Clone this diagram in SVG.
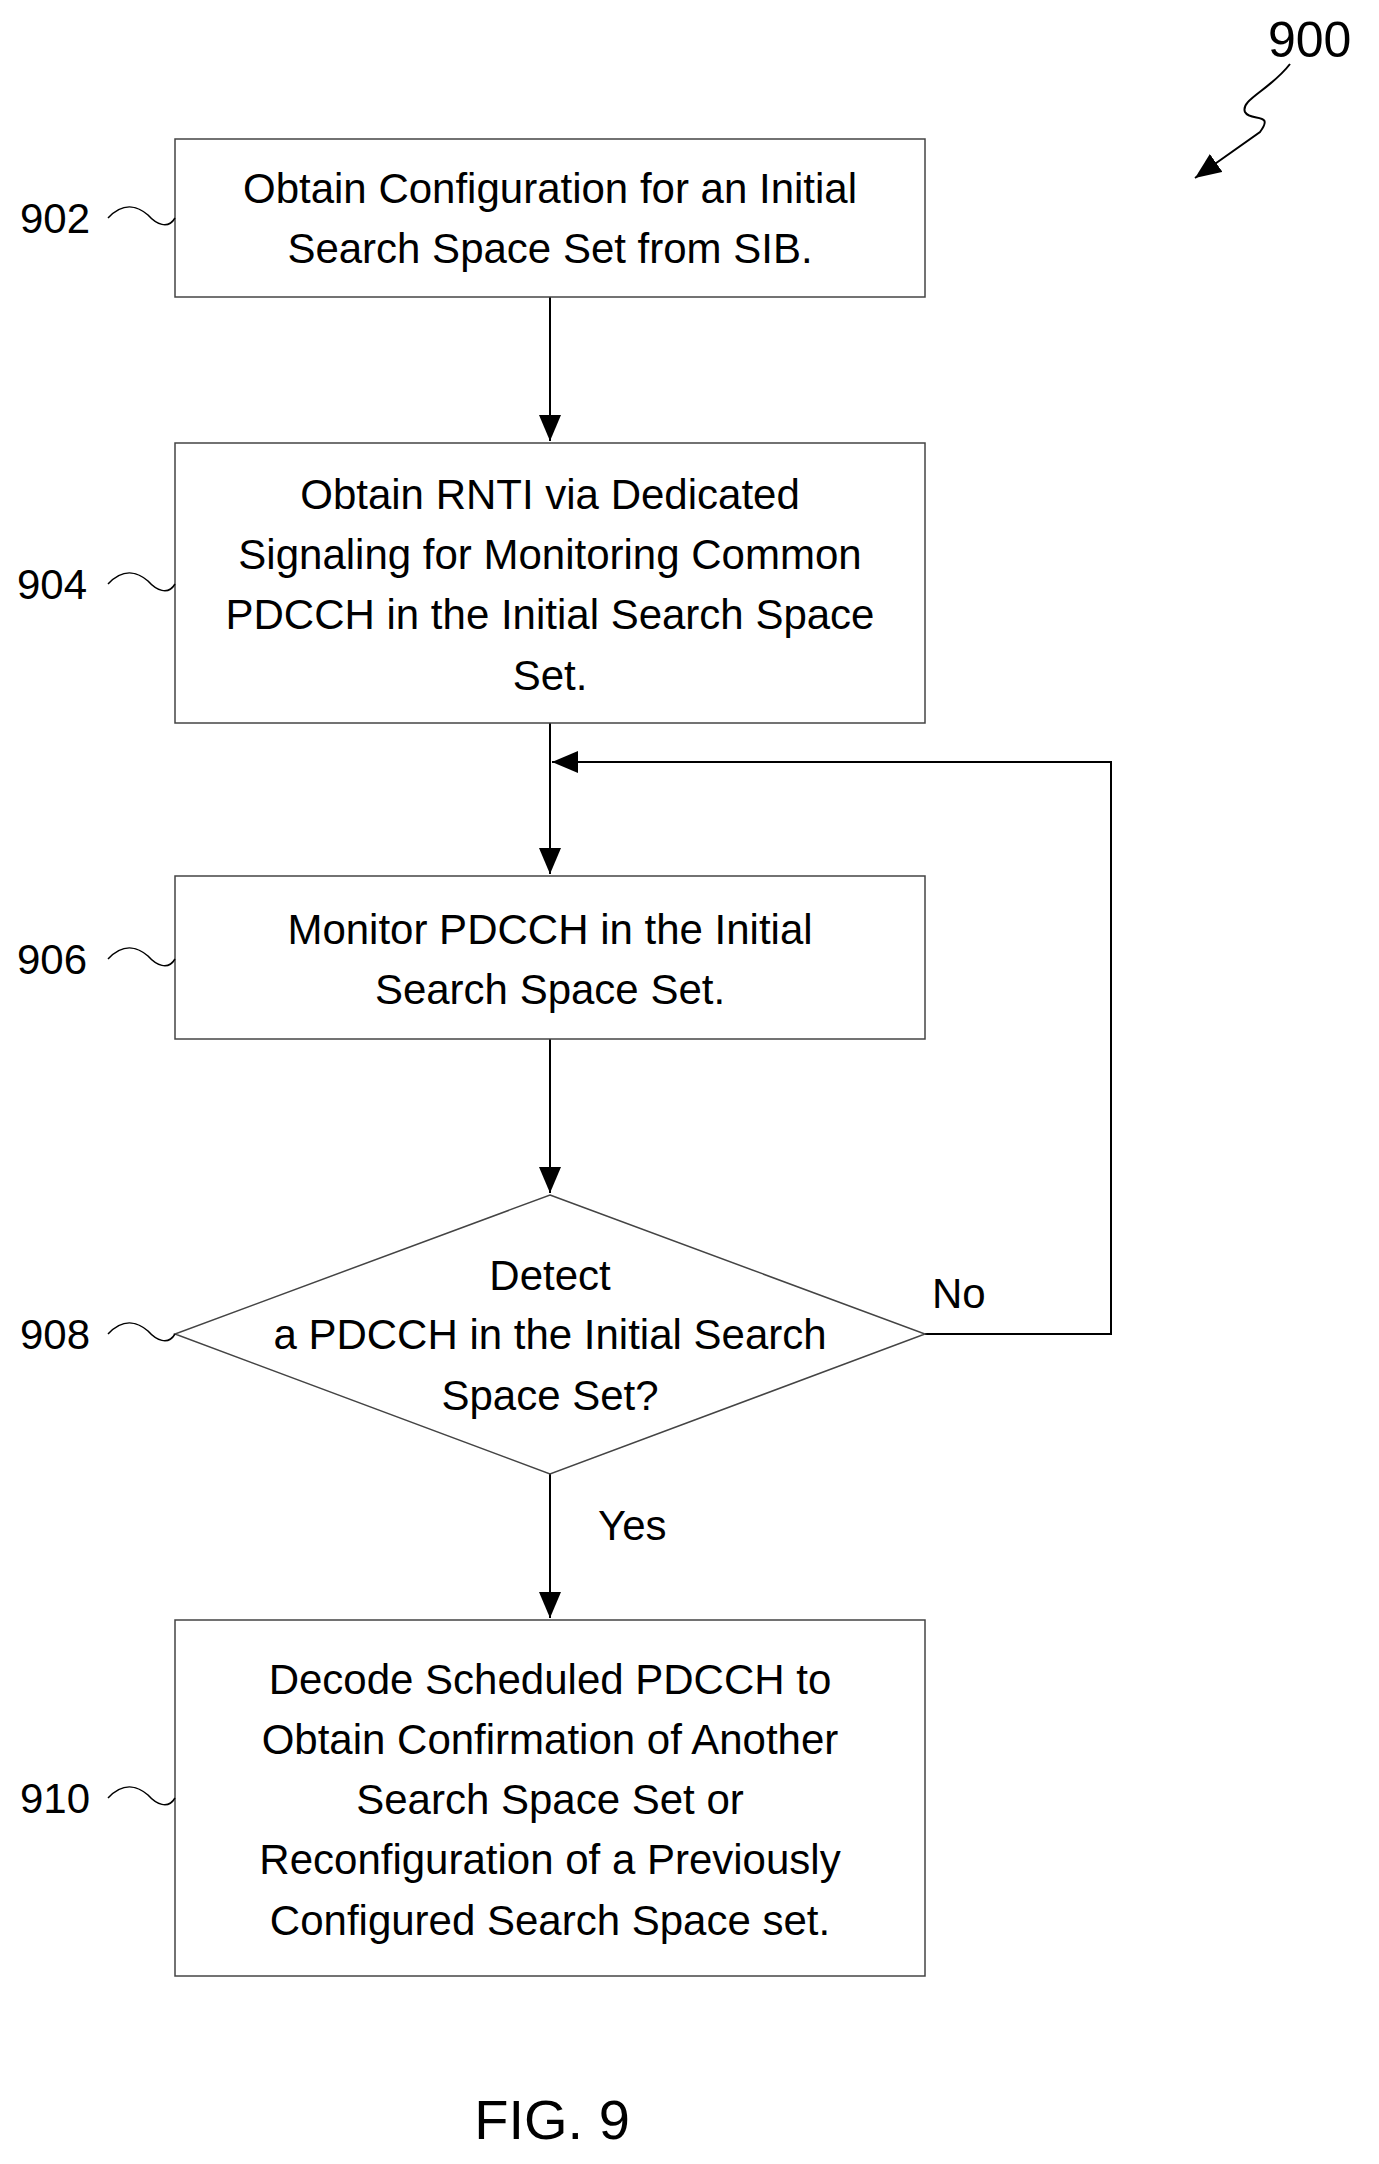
<svg xmlns="http://www.w3.org/2000/svg" width="1379" height="2164" viewBox="0 0 1379 2164">
<style>
.b{fill:#fff;stroke:#444;stroke-width:1.5}
.t{font-family:"Liberation Sans",Arial,sans-serif;font-size:42px;fill:#000;text-anchor:middle}
.l{font-family:"Liberation Sans",Arial,sans-serif;font-size:42px;fill:#000}
.c{fill:none;stroke:#000;stroke-width:2}
.s{fill:none;stroke:#000;stroke-width:1.5}
</style>
<defs><marker id="a2" markerWidth="26" markerHeight="22" refX="26" refY="11" orient="auto" markerUnits="userSpaceOnUse"><path d="M0,0 L26,11 L0,22 z" fill="#000"/></marker></defs>
<rect width="1379" height="2164" fill="#fff"/>
<g id="connectors">
<line class="c" x1="550" y1="297" x2="550" y2="441" marker-end="url(#a2)"/>
<line class="c" x1="550" y1="723" x2="550" y2="874" marker-end="url(#a2)"/>
<line class="c" x1="550" y1="1039" x2="550" y2="1193" marker-end="url(#a2)"/>
<line class="c" x1="550" y1="1474" x2="550" y2="1618" marker-end="url(#a2)"/>
<polyline class="c" points="925,1334 1111,1334 1111,762 552,762" marker-end="url(#a2)"/>
<text class="l" x="932" y="1308">No</text>
<text class="l" x="598" y="1540">Yes</text>
</g>
<g id="n900"><text class="l" x="1268" y="57" style="font-size:50px">900</text>
<path class="c" d="M1290,64 C1270,90 1240,100 1245,112 C1250,122 1275,112 1260,132 L1195,178" marker-end="url(#a2)"/></g>
<g id="n902"><rect class="b" x="175" y="139" width="750" height="158"/>
<text class="t" x="550" y="203">Obtain Configuration for an Initial</text>
<text class="t" x="550" y="263">Search Space Set from SIB.</text>
<text class="l" x="20" y="233">902</text><path class="s" d="M108,218 C125,200 140,208 148,215 C156,224 168,230 175,218"/></g>
<g id="n904"><rect class="b" x="175" y="443" width="750" height="280"/>
<text class="t" x="550" y="509">Obtain RNTI via Dedicated</text>
<text class="t" x="550" y="569">Signaling for Monitoring Common</text>
<text class="t" x="550" y="629">PDCCH in the Initial Search Space</text>
<text class="t" x="550" y="690">Set.</text>
<text class="l" x="17" y="599">904</text><path class="s" d="M108,584 C125,566 140,574 148,581 C156,590 168,596 175,584"/></g>
<g id="n906"><rect class="b" x="175" y="876" width="750" height="163"/>
<text class="t" x="550" y="944">Monitor PDCCH in the Initial</text>
<text class="t" x="550" y="1004">Search Space Set.</text>
<text class="l" x="17" y="974">906</text><path class="s" d="M108,959 C125,941 140,949 148,956 C156,965 168,971 175,959"/></g>
<g id="n908"><polygon class="b" points="550,1195 925,1334 550,1474 175,1334"/>
<text class="t" x="550" y="1290">Detect</text>
<text class="t" x="550" y="1349">a PDCCH in the Initial Search</text>
<text class="t" x="550" y="1410">Space Set?</text>
<text class="l" x="20" y="1349">908</text><path class="s" d="M108,1334 C125,1316 140,1324 148,1331 C156,1340 168,1346 175,1334"/></g>
<g id="n910"><rect class="b" x="175" y="1620" width="750" height="356"/>
<text class="t" x="550" y="1694">Decode Scheduled PDCCH to</text>
<text class="t" x="550" y="1754">Obtain Confirmation of Another</text>
<text class="t" x="550" y="1814">Search Space Set or</text>
<text class="t" x="550" y="1874">Reconfiguration of a Previously</text>
<text class="t" x="550" y="1935">Configured Search Space set.</text>
<text class="l" x="20" y="1813">910</text><path class="s" d="M108,1798 C125,1780 140,1788 148,1795 C156,1804 168,1810 175,1798"/></g>
<text class="t" x="552" y="2139" style="font-size:56px">FIG. 9</text>
</svg>
